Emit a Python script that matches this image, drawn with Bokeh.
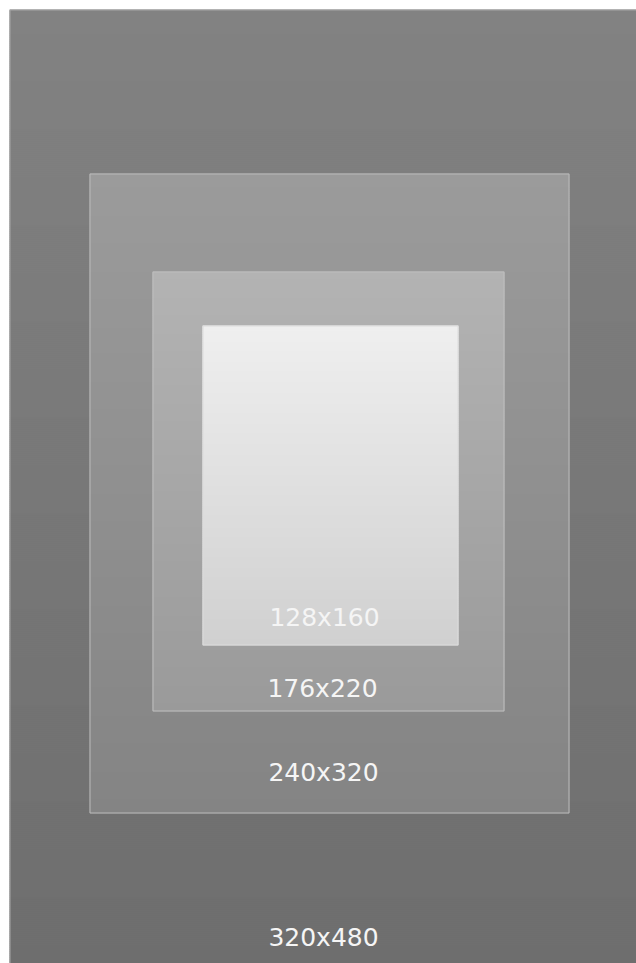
import numpy as np
from bokeh.plotting import figure
from bokeh.models import Range1d, ColumnDataSource
from bokeh.core.properties import value
from bokeh.embed import file_html
from bokeh.resources import INLINE

# Screen sizes (width x height) drawn as nested frames
labels = ["320x480", "240x320", "176x220", "128x160"]
widths = [320, 240, 176, 128]
heights = [480, 320, 220, 160]
# frame offsets (left, top) in the same units
lefts = [0, 40, 71.5, 96.5]
tops = [0, 82, 131, 158]
# gradient colours (top, bottom) and outline colours
top_colors = [(0x82, 0x82, 0x82), (0x9b, 0x9b, 0x9b), (0xb3, 0xb3, 0xb3), (0xef, 0xef, 0xef)]
bottom_colors = [(0x6e, 0x6e, 0x6e), (0x84, 0x84, 0x84), (0x9a, 0x9a, 0x9a), (0xd0, 0xd0, 0xd0)]
outline_colors = ["#a6a6a6", "#bababa", "#bebebe", "#dcdcdc"]
label_offsets = [16, 20.5, 11.5, 14]  # distance of label above frame bottom

W, H = 636, 963
p = figure(width=W, height=H, output_backend="svg", toolbar_location=None,
           x_range=Range1d(-4.5, -4.5 + W / 2), y_range=Range1d(-4.5 + H / 2, -4.5),
           min_border=0, background_fill_color="white", border_fill_color="white")
p.axis.visible = False
p.grid.visible = False
p.outline_line_color = None

for i in range(len(labels)):
    x0, y0 = lefts[i], tops[i]
    w, h = widths[i], heights[i]
    n = int(h)
    edges = np.linspace(y0, y0 + h, n + 1)
    t = (np.arange(n) + 0.5) / n
    c0 = np.array(top_colors[i], dtype=float)
    c1 = np.array(bottom_colors[i], dtype=float)
    cols = []
    for tt in t:
        c = c0 + (c1 - c0) * tt
        cols.append("#%02x%02x%02x" % tuple(int(round(v)) for v in c))
    src = ColumnDataSource(dict(left=[x0] * n, right=[x0 + w] * n,
                                top=edges[:-1], bottom=np.minimum(edges[1:] + 0.4, y0 + h),
                                color=cols))
    p.quad(left="left", right="right", top="top", bottom="bottom", source=src,
           fill_color="color", line_color=None)
    p.quad(left=[x0 + 0.25], right=[x0 + w - 0.25], top=[y0 + 0.25], bottom=[y0 + h - 0.25],
           fill_color=None, line_color=outline_colors[i], line_width=1)

lab_x = [lefts[i] + widths[i] / 2 - 3 for i in range(len(labels))]
lab_y = [tops[i] + heights[i] - label_offsets[i] for i in range(len(labels))]
p.text(x=lab_x, y=lab_y, text=labels, text_font=value("DejaVu Sans"),
       text_font_size="25px", text_color="#f5f5f5", text_align="center",
       text_baseline="middle")

open("out.html", "w").write(file_html(p, INLINE))
